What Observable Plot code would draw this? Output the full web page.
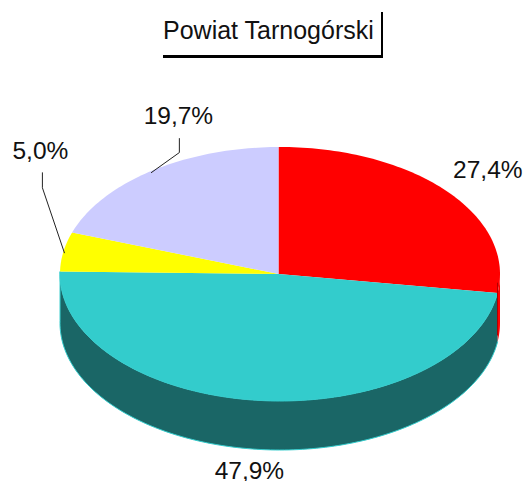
<!DOCTYPE html>
<html><head><meta charset="utf-8">
<script src="https://cdn.jsdelivr.net/npm/d3@7"></script>
<script src="https://cdn.jsdelivr.net/npm/@observablehq/plot@0.6"></script>
<style>
html,body{margin:0;padding:0;background:#fff}
#head{position:relative;height:60px;width:525px}
#title{position:absolute;left:163px;top:12px;width:218px;height:43px;border-right:2px solid #000;border-bottom:3px solid #000;font:25px "Liberation Sans",Arial,sans-serif;color:#111;line-height:37px;white-space:nowrap}
svg{display:block}
</style></head><body>
<div id="head"><div id="title">Powiat Tarnogórski</div></div>
<div id="chart"></div>
<script>
const shares = [27.4, 47.9, 5.0, 19.7];
const labels = ["27,4%","47,9%","5,0%","19,7%"];
const colors = ["#ff0000","#33cccc","#ffff00","#ccccff"];
const W=525,H=421,cx=279.5,cy=213.5,R=220;
const tilt = 127/R, depth = 49/R;

// walk the pie clockwise from twelve o'clock
const pt = (pct, dz=0) => { const t = pct/100*2*Math.PI; return {x: Math.sin(t), y: Math.cos(t)*tilt - dz}; };
let acc = 0;
const slices = shares.map((v,i)=>{const s={i,start:acc,end:acc+v,mid:acc+v/2,label:labels[i],color:colors[i]};acc+=v;return s;});
const arc = (a,b,dz=0)=>{const n=Math.max(2,Math.ceil((b-a)*3)),o=[];for(let k=0;k<=n;k++)o.push(pt(a+(b-a)*k/n,dz));return o;};
const apex = {x:-1.5/R,y:0};
const seam = p => (Math.abs(p.x)<1e-6 && p.y>0) ? {...p,x:apex.x} : p;
const tops = slices.flatMap(s=>[apex,...arc(s.start,s.end).map(seam),apex].map(p=>({...p,s:s.i,color:s.color})));
const teal = slices[1], red = slices[0];
const sideT = [...arc(teal.start,teal.end),...arc(teal.start,teal.end,depth).reverse()];
const sideR = [...arc(25,red.end),...arc(25,red.end,depth).reverse()];
const text=(s,dx,dy)=>Plot.text([pt(s.mid)],{x:"x",y:"y",text:()=>s.label,dx,dy,fontSize:24.5,fill:"#111",fontFamily:"Liberation Sans"});
const leader=(s,off)=>{const p=pt(s.mid);return off.map(([a,b])=>({x:p.x+a/R,y:p.y-b/R}));};
const edge=(pct,off)=>{const p=pt(pct);return off.map(b=>({x:p.x,y:p.y-b/R}));};

const plot = Plot.plot({
  width:W,height:H,margin:0,
  x:{domain:[-cx/R,(W-cx)/R],range:[0,W],axis:null},
  y:{domain:[cy/R,(cy-H)/R],range:[0,H],axis:null},
  marks:[
    Plot.line(sideR,{x:"x",y:"y",fill:"#ff0000",stroke:"none",curve:"linear"}),
    Plot.line(sideT,{x:"x",y:"y",fill:"#1a6666",stroke:"#33cccc",strokeWidth:1,curve:"linear"}),
    Plot.line(tops,{x:"x",y:"y",z:"s",fill:"color",stroke:"none",curve:"linear"}),
    Plot.line(edge(red.end,[-10,42]),{x:"x",y:"y",stroke:"#b00000",strokeWidth:1}),
    Plot.line(leader(slices[2],[[1,1],[-21,-64],[-21,-79]]),{x:"x",y:"y",stroke:"#222",strokeWidth:1}),
    Plot.line(leader(slices[3],[[-1,2],[27,-18],[27,-32]]),{x:"x",y:"y",stroke:"#222",strokeWidth:1}),
    text(red,41,-21),
    text(teal,-12,71),
    text(slices[2],-23,-101),
    text(slices[3],26,-54)
  ]
});
document.getElementById("chart").append(plot);
</script></body></html>
